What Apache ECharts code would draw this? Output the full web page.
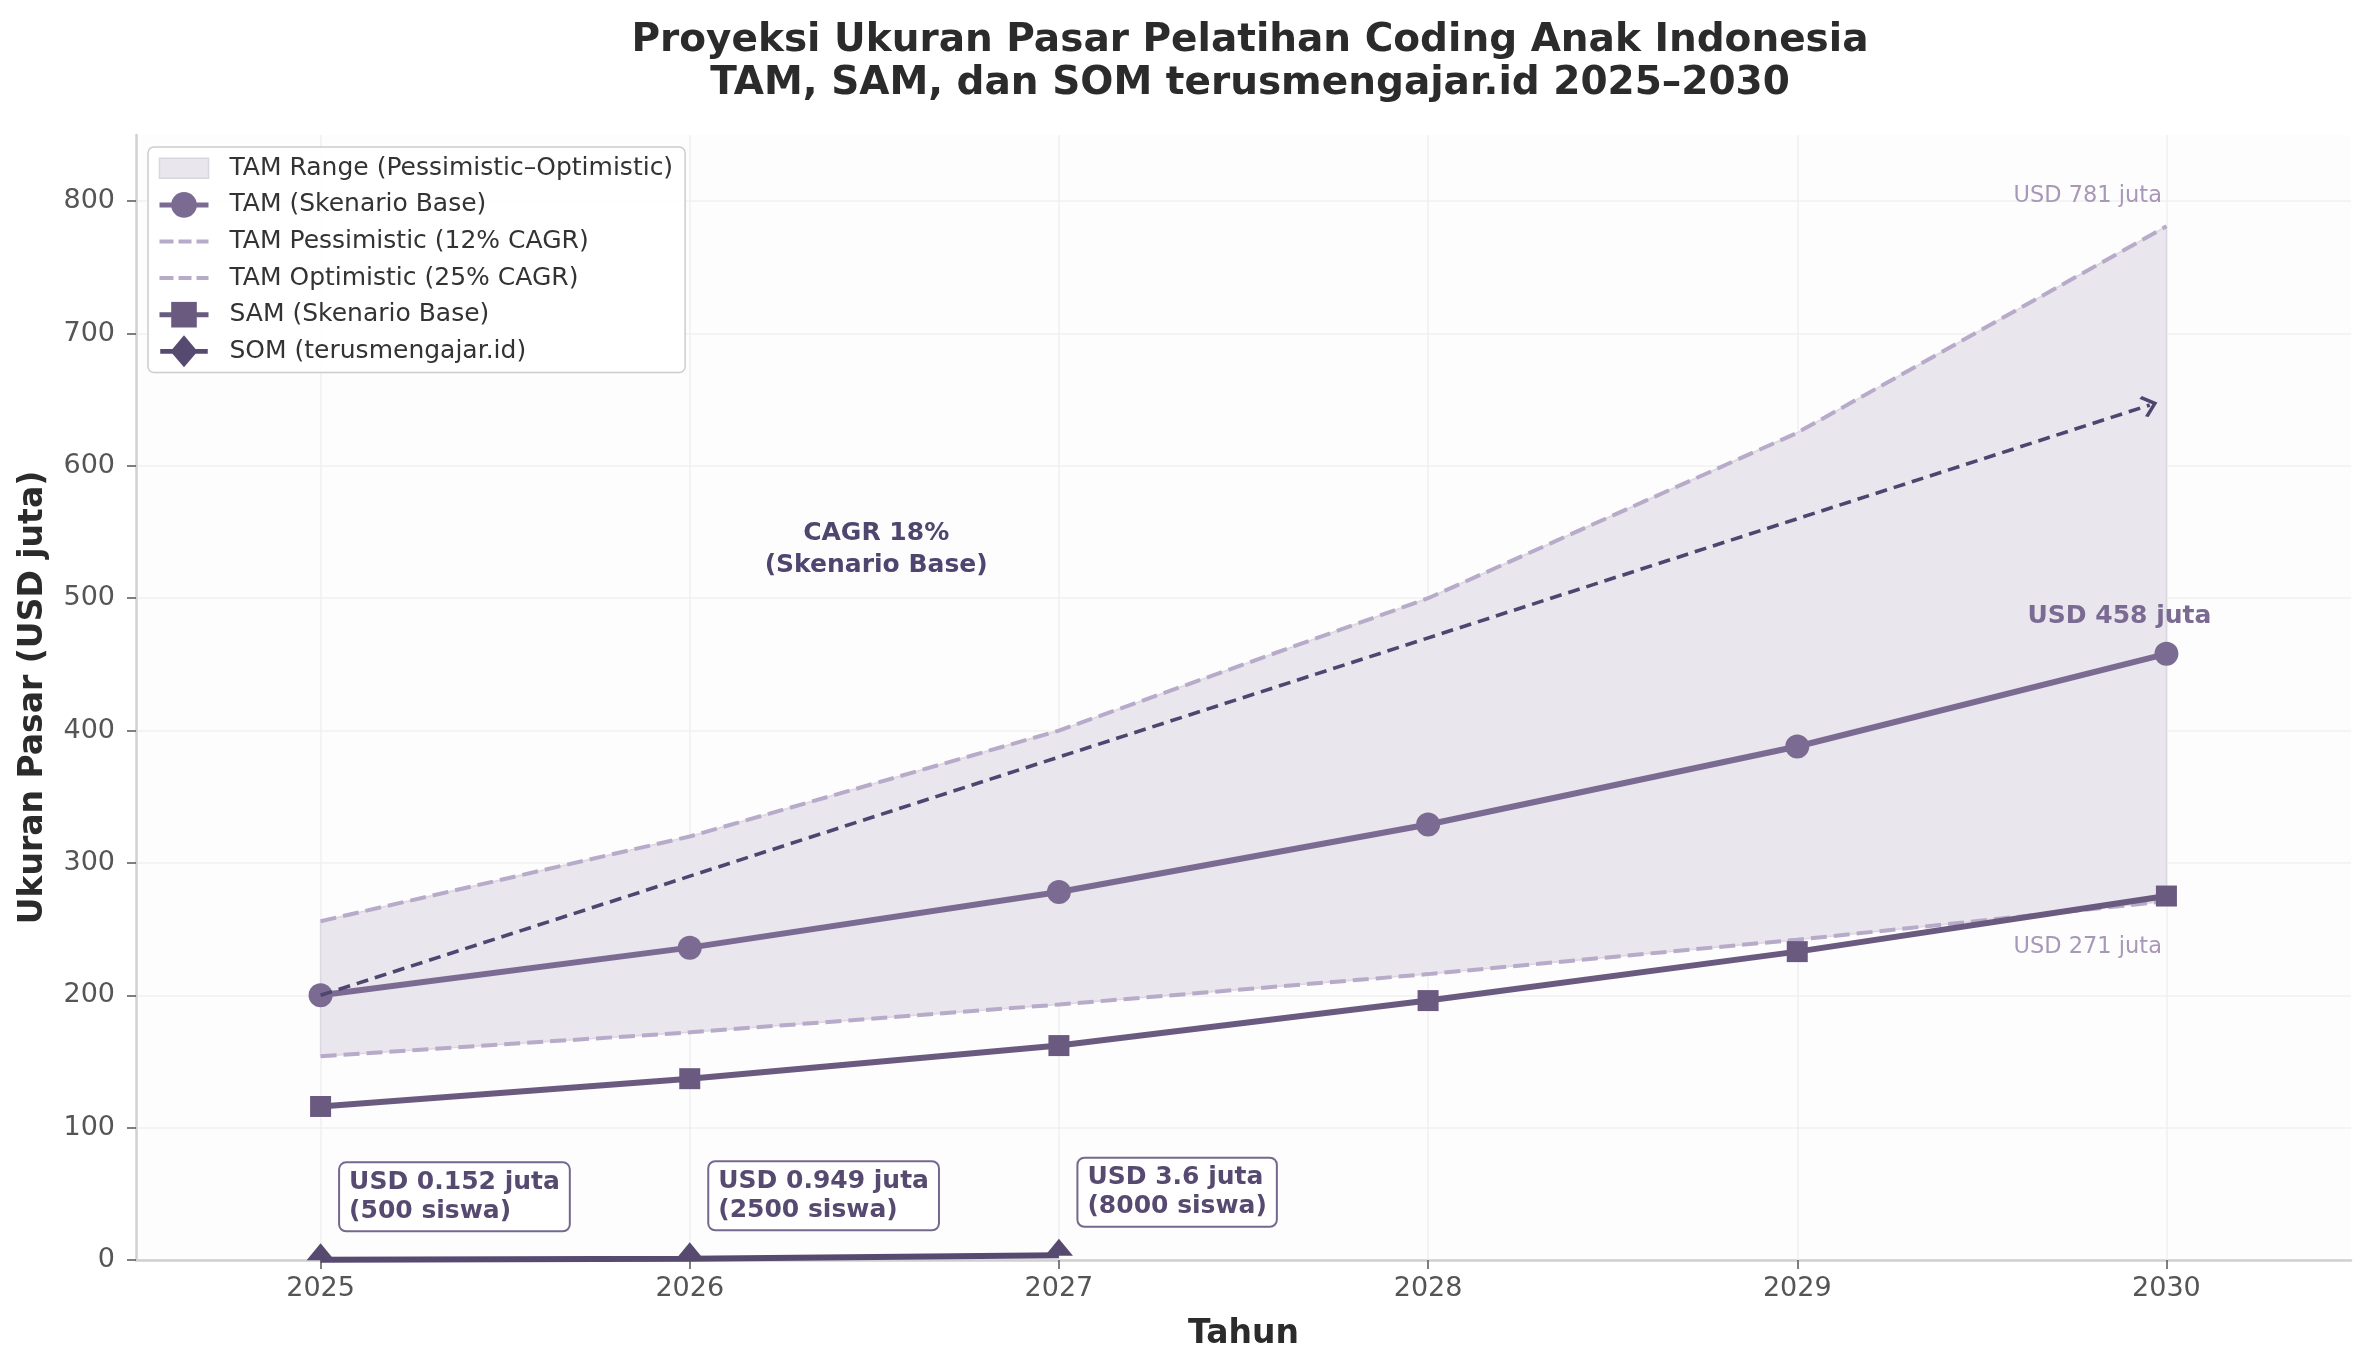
<!DOCTYPE html>
<html>
<head>
<meta charset="utf-8">
<title>Proyeksi Ukuran Pasar Pelatihan Coding Anak Indonesia</title>
<script src="https://cdn.jsdelivr.net/npm/echarts@6/dist/echarts.min.js"></script>
<style>
  html, body { margin: 0; padding: 0; background: #ffffff; }
  #chart { width: 2371px; height: 1371px; }
</style>
</head>
<body>
<div id="chart"></div>
<script>
// data
const years = [2025, 2026, 2027, 2028, 2029, 2030]
const tamBase = [200, 236, 278, 329, 388, 458]
const tamPessimistic = [154, 172, 193, 216, 242, 271]
const tamOptimistic = [256, 320, 400, 500, 625, 781]
const samBase = [116, 137, 162, 196, 233, 275]
const somYears = [2025, 2026, 2027]
const somValues = [0.152, 0.949, 3.6]
const somStudents = [500, 2500, 8000]
const yTicks = [0, 100, 200, 300, 400, 500, 600, 700, 800]
// annotation anchors (data coords)
const cagrArrowStart = [2025, 200]
const cagrArrowEnd = [2029.955, 646]
const cagrTextAt = [2026.505, 537]

const font = 'DejaVu Sans'
const cBase = '#7b6b92'
const cSam = '#6b5a80'
const cSom = '#574a70'
const cRange = '#b8aac9'
const cBand = '#e9e6ed'
const cDark = '#4f4670'

const pairs = (xs, ys) => xs.map((x, i) => [x, ys[i]])
const last = arr => arr[arr.length - 1]

// legend icons
const dashIcon = 'path://M0,0 h14 v4 h-14 Z M19,0 h13 v4 h-13 Z M37,0 h12 v4 h-12 Z'
const bandIcon = 'path://M0,0 h49 v20 h-49 Z'
const somIcon = 'path://M0,14 L12.6,14 L24.5,0 L36.4,14 L49,14 L49,19 L36.4,19 L24.5,33 L12.6,19 L0,19 Z'

const chart = echarts.init(document.getElementById('chart'))

chart.setOption({
  animation: false,
  backgroundColor: '#ffffff',
  textStyle: { fontFamily: font },
  title: {
    text: 'Proyeksi Ukuran Pasar Pelatihan Coding Anak Indonesia\nTAM, SAM, dan SOM terusmengajar.id 2025\u20132030',
    left: 1245,
    top: 14,
    textAlign: 'center',
    textStyle: {
      fontFamily: font,
      fontSize: 39,
      fontWeight: 'bold',
      color: '#2b2b2b',
      lineHeight: 43
    }
  },
  legend: {
    orient: 'vertical',
    left: 148,
    top: 147,
    itemWidth: 49,
    itemHeight: 32,
    itemGap: 0,
    padding: [3, 12, 3, 9],
    backgroundColor: 'rgba(255,255,255,0.85)',
    borderColor: '#cccccc',
    borderWidth: 1.5,
    borderRadius: 6,
    lineStyle: { width: 5 },
    textStyle: { fontFamily: font, fontSize: 25, lineHeight: 36.6, color: '#333333', padding: [0, 0, 0, 16] },
    data: [
      { name: 'TAM Range (Pessimistic\u2013Optimistic)', icon: bandIcon,
        itemStyle: { color: cBand, borderColor: '#d9d5e0', borderWidth: 1.5 } },
      'TAM (Skenario Base)',
      { name: 'TAM Pessimistic (12% CAGR)', icon: dashIcon, itemStyle: { color: cRange } },
      { name: 'TAM Optimistic (25% CAGR)', icon: dashIcon, itemStyle: { color: cRange } },
      'SAM (Skenario Base)',
      { name: 'SOM (terusmengajar.id)', icon: somIcon, itemStyle: { color: cSom } }
    ]
  },
  grid: {
    left: 136,
    right: 20,
    top: 135,
    bottom: 111,
    show: true,
    backgroundColor: '#fdfdfd',
    borderWidth: 0
  },
  xAxis: {
    type: 'value',
    min: 2024.5,
    max: 2030.5,
    name: 'Tahun',
    nameLocation: 'middle',
    nameGap: 58,
    nameTextStyle: { fontFamily: font, fontSize: 33, fontWeight: 'bold', color: '#2b2b2b' },
    axisLine: { show: true, lineStyle: { color: '#d0d0d0', width: 2.5 } },
    axisTick: { show: true, length: 9, customValues: years, lineStyle: { color: '#555555', width: 1.5 } },
    axisLabel: { customValues: years, fontSize: 27, color: '#555555', margin: 15, formatter: v => String(v) },
    splitLine: { show: false }
  },
  yAxis: {
    type: 'value',
    min: 0,
    max: 850,
    interval: 100,
    name: 'Ukuran Pasar (USD juta)',
    nameLocation: 'middle',
    nameGap: 86,
    nameTextStyle: { fontFamily: font, fontSize: 33, fontWeight: 'bold', color: '#2b2b2b' },
    axisLine: { show: true, lineStyle: { color: '#d0d0d0', width: 2.5 } },
    axisTick: { show: true, length: 9, customValues: yTicks, lineStyle: { color: '#555555', width: 1.5 } },
    axisLabel: { customValues: yTicks, fontSize: 27, color: '#555555', margin: 21 },
    splitLine: { show: true, lineStyle: { color: '#f1f1f1', width: 1.5 } }
  },
  series: [
    {
      // vertical grid lines at the year ticks, kept under the band
      name: 'gridHelper',
      type: 'line',
      data: [],
      z: 0,
      markLine: {
        silent: true,
        z: 0.5,
        symbol: 'none',
        label: { show: false },
        lineStyle: { color: '#efefef', width: 1.5, type: 'solid' },
        data: years.map(y => ({ xAxis: y }))
      }
    },
    {
      name: 'TAM Range (Pessimistic\u2013Optimistic)',
      type: 'custom',
      color: cBand,
      data: pairs(years, tamOptimistic),
      encode: { x: 0, y: 1 },
      z: 1,
      renderItem: (params, api) => {
        if (params.dataIndex !== 0) return null
        const upper = years.map((y, i) => api.coord([y, tamOptimistic[i]]))
        const lower = years.map((y, i) => api.coord([y, tamPessimistic[i]])).reverse()
        return {
          type: 'polygon',
          shape: { points: upper.concat(lower) },
          style: { fill: cBand, stroke: '#dcd8e2', lineWidth: 1.5 }
        }
      }
    },
    {
      name: 'TAM Pessimistic (12% CAGR)',
      type: 'line',
      color: cRange,
      data: pairs(years, tamPessimistic),
      symbol: 'none',
      lineStyle: { color: cRange, width: 4, type: [16, 7] },
      z: 2,
      markPoint: {
        symbol: 'circle',
        symbolSize: 1,
        itemStyle: { color: 'transparent' },
        data: [{
          coord: [last(years), last(tamPessimistic)],
          label: {
            show: true,
            position: 'left',
            distance: 4,
            offset: [0, 46],
            formatter: 'USD ' + last(tamPessimistic) + ' juta',
            fontSize: 22.5,
            color: '#a898b8'
          }
        }]
      }
    },
    {
      name: 'TAM Optimistic (25% CAGR)',
      type: 'line',
      color: cRange,
      data: pairs(years, tamOptimistic),
      symbol: 'none',
      lineStyle: { color: cRange, width: 4, type: [16, 7] },
      z: 2,
      markPoint: {
        symbol: 'circle',
        symbolSize: 1,
        itemStyle: { color: 'transparent' },
        data: [{
          coord: [last(years), last(tamOptimistic)],
          label: {
            show: true,
            position: 'left',
            distance: 4,
            offset: [0, -30],
            formatter: 'USD ' + last(tamOptimistic) + ' juta',
            fontSize: 22.5,
            color: '#a898b8'
          }
        }]
      }
    },
    {
      name: 'TAM (Skenario Base)',
      type: 'line',
      color: cBase,
      data: pairs(years, tamBase),
      symbol: 'circle',
      symbolSize: 24,
      lineStyle: { color: cBase, width: 6 },
      itemStyle: { color: cBase },
      z: 4,
      markLine: {
        silent: true,
        symbol: ['none', 'path://M0,0 L12,10 L10,12.5 L0,4.2 L-10,12.5 L-12,10 Z'],
        symbolSize: [22, 16],
        label: { show: false },
        lineStyle: { color: cDark, width: 3.6, type: [12, 7] },
        data: [[{ coord: cagrArrowStart }, { coord: cagrArrowEnd }]]
      },
      markPoint: {
        symbol: 'circle',
        symbolSize: 1,
        itemStyle: { color: 'transparent' },
        data: [
          {
            coord: [last(years), last(tamBase)],
            label: {
              show: true,
              position: 'inside',
              offset: [-47, -37],
              formatter: 'USD ' + last(tamBase) + ' juta',
              fontSize: 25,
              fontWeight: 'bold',
              color: cBase
            }
          },
          {
            coord: cagrTextAt,
            label: {
              show: true,
              position: 'inside',
              formatter: 'CAGR 18%\n(Skenario Base)',
              fontSize: 25,
              fontWeight: 'bold',
              lineHeight: 32,
              align: 'center',
              color: cDark
            }
          }
        ]
      }
    },
    {
      name: 'SAM (Skenario Base)',
      type: 'line',
      color: cSam,
      data: pairs(years, samBase),
      symbol: 'rect',
      symbolSize: 21,
      lineStyle: { color: cSam, width: 6 },
      itemStyle: { color: cSam },
      z: 5
    },
    {
      name: 'SOM (terusmengajar.id)',
      type: 'line',
      color: cSom,
      data: pairs(somYears, somValues),
      // diamond cut at the x axis, as in the reference
      symbol: 'triangle',
      symbolSize: [28, 17],
      symbolOffset: [0, -8],
      lineStyle: { color: cSom, width: 6 },
      itemStyle: { color: cSom },
      z: 6,
      markPoint: {
        symbol: 'circle',
        symbolSize: 1,
        itemStyle: { color: 'transparent' },
        data: somYears.map((y, i) => ({
          coord: [y, somValues[i]],
          label: {
            show: true,
            position: 'right',
            distance: 0,
            offset: [19, -63],
            formatter: 'USD ' + somValues[i] + ' juta\n(' + somStudents[i] + ' siswa)',
            fontSize: 25,
            fontWeight: 'bold',
            lineHeight: 29,
            align: 'left',
            color: cSom,
            backgroundColor: '#ffffff',
            borderColor: '#75688f',
            borderWidth: 2,
            borderRadius: 6,
            padding: [5, 9, 4, 9]
          }
        }))
      }
    }
  ]
})
</script>
</body>
</html>
